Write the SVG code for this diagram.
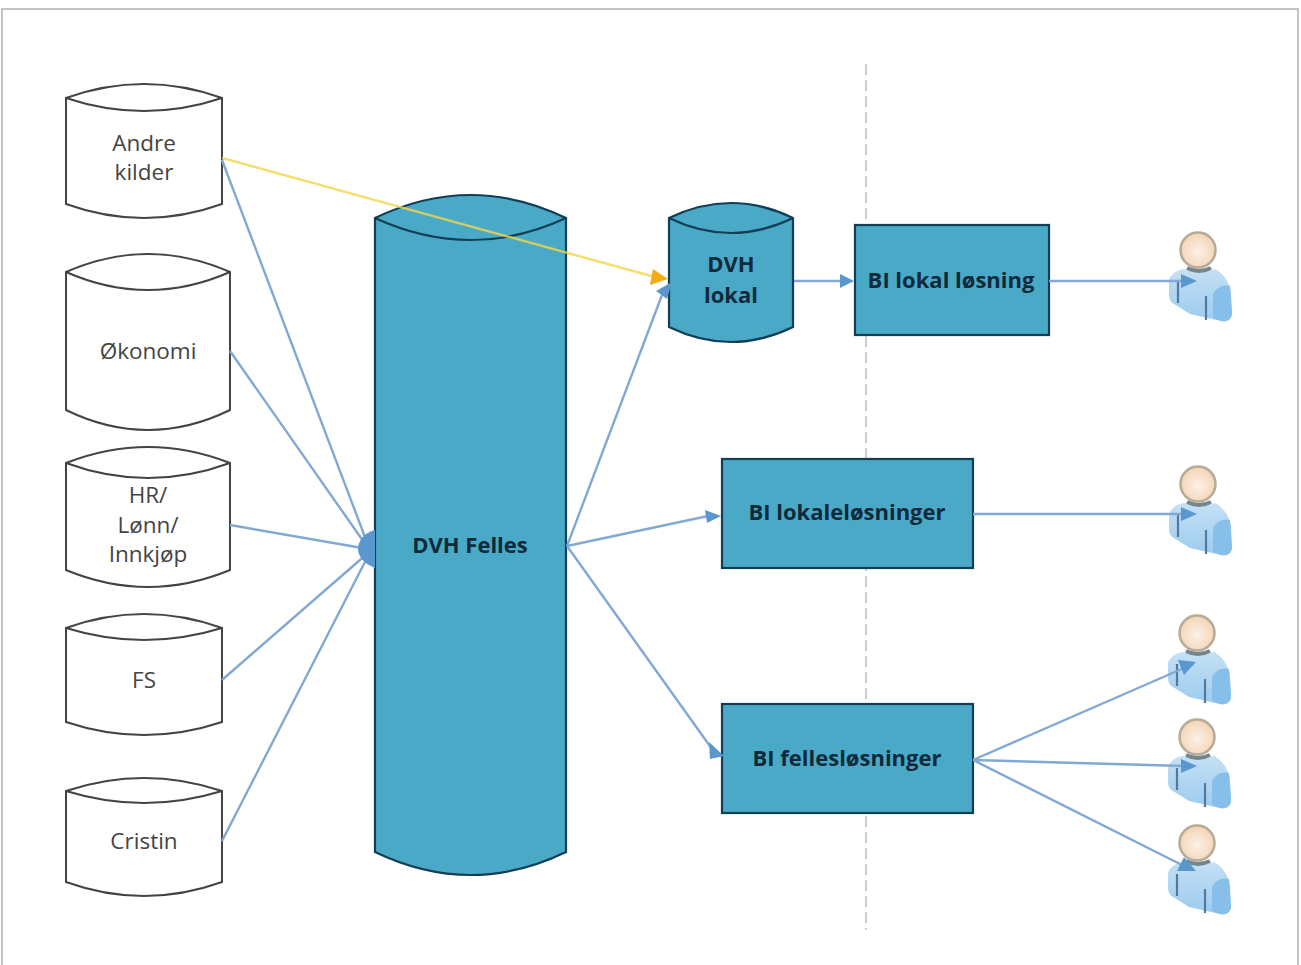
<svg xmlns="http://www.w3.org/2000/svg" width="1301" height="965" viewBox="0 0 1301 965">
<style>
text{font-family:"Open Sans","Liberation Sans",sans-serif;font-size:22.5px;text-anchor:middle;fill:#444}
.w path{fill:#fff;stroke:#444;stroke-width:2}
.b path,.b rect{fill:#4aa9c6;stroke:#123f55;stroke-width:2.2}
.b text{font-size:22px;font-weight:700;fill:#0f2a3a}
.c{stroke:#82a9d3;stroke-width:2.4;fill:none}
.e{fill:#5b97cf}
.skin{fill:url(#sk);stroke:#b5ab97;stroke-width:2.5}
.body{fill:url(#bd)}
.side{fill:#86c0ea}
.fold{stroke:#4f7b9c;stroke-width:2.2;fill:none}
</style>
<defs>
<radialGradient id="sk" cx=".5" cy=".55" r=".55"><stop offset="0" stop-color="#fdf1e6"/><stop offset="1" stop-color="#f3d3b4"/></radialGradient>
<linearGradient id="bd" x1="0" y1="0" x2="0" y2="1"><stop offset="0" stop-color="#c4e0f5"/><stop offset="1" stop-color="#9ccbef"/></linearGradient>
<filter id="soft" x="-10%" y="-10%" width="120%" height="120%"><feGaussianBlur stdDeviation="0.7"/></filter>
<g id="person" filter="url(#soft)">
<path class="body" d="M-14 19C-4 23 8 23 17 19C26 24 31 32 33 42L34 64C33 70 29 72 23 71L-8 64L-24 54C-28 52 -29 48 -29 44L-29 30C-27 24 -21 20 -14 19Z"/>
<path class="side" d="M15 44C18 37 26 34 32 36L34 64C33 70 29 72 23 71L15 68Z"/>
<path class="fold" d="M-20 31V53M8 46V70"/>
<path d="M-11 18Q1 24 13 18" stroke="#77858c" stroke-width="4" fill="none"/>
<circle class="skin" r="17.5"/>
</g>
</defs>
<rect x="2" y="9" width="1296" height="970" fill="#fff" stroke="#b0b0b0" stroke-width="1.5"/>
<path d="M866 64V930" stroke="#c9b9b9" stroke-width="1.5" stroke-dasharray="11 5" fill="none"/>
<g id="node-andre" class="w"><path d="M66 98Q144 70 222 98V204Q144 232 66 204Z"/><path d="M66 98Q144 124 222 98"/><text x="144" y="151">Andre</text><text x="144" y="180">kilder</text></g>
<g id="node-okonomi" class="w"><path d="M66 272Q148 236 230 272V410Q148 450 66 410Z"/><path d="M66 272Q148 308 230 272"/><text x="148" y="359">Økonomi</text></g>
<g id="node-hr" class="w"><path d="M66 463Q148 431 230 463V570Q148 604 66 570Z"/><path d="M66 463Q148 493 230 463"/><text x="148" y="503">HR/</text><text x="148" y="533">Lønn/</text><text x="148" y="562">Innkjøp</text></g>
<g id="node-fs" class="w"><path d="M66 628Q144 600 222 628V722Q144 748 66 722Z"/><path d="M66 628Q144 652 222 628"/><text x="144" y="688">FS</text></g>
<g id="node-cristin" class="w"><path d="M66 791Q144 765 222 791V882Q144 910 66 882Z"/><path d="M66 791Q144 815 222 791"/><text x="144" y="849">Cristin</text></g>
<g id="node-felles" class="b"><path d="M375 218Q471 172 566 218V852Q471 898 375 852Z"/><path d="M375 218Q471 262 566 218" fill="none"/><text x="470" y="553">DVH Felles</text></g>
<g id="node-lokal" class="b"><path d="M669 218Q731 188 793 218V327Q731 357 669 327Z"/><path d="M669 218Q731 248 793 218" fill="none"/><text x="731" y="272">DVH</text><text x="731" y="303">lokal</text></g>
<g id="node-bi-lokal" class="b"><rect x="855" y="225" width="194" height="110"/><text x="951" y="288">BI lokal løsning</text></g>
<g id="node-bi-lokale" class="b"><rect x="722" y="459" width="251" height="109"/><text x="847" y="520">BI lokaleløsninger</text></g>
<g id="node-bi-felles" class="b"><rect x="722" y="704" width="251" height="109"/><text x="847" y="766">BI fellesløsninger</text></g>
<g id="node-user1"><use href="#person" x="1198" y="250"/></g>
<g id="node-user2"><use href="#person" x="1198" y="484"/></g>
<g id="node-user3"><use href="#person" x="1197" y="633"/></g>
<g id="node-user4"><use href="#person" x="1197" y="737"/></g>
<g id="node-user5"><use href="#person" x="1197" y="843"/></g>
<g id="connectors">
<path class="c" d="M222 160L368 545M230 351L368 548M230 525L368 549M222 680L368 553M222 841L368 556"/>
<path class="e" d="M375 530C362 533 358 543 358 549C358 556 364 564 375 568Z"/>
<path class="c" d="M567 546L662 295M567 546L708 516M567 546L712 749M794 281H842M1049 281H1184M973 514H1184M973 760L1184 668M973 760L1184 766M973 760L1184 866"/>
<path d="M222 158L655 277" stroke="#f3d44a" stroke-width="2.4" opacity="0.8" fill="none"/>
<path d="M668 279L653 269L650 285Z" fill="#f0ad16"/>
<path class="e" d="M672 282L656 291L667 299Z"/>
<path class="e" d="M854 281L840 274V288Z"/>
<path class="e" d="M721 516L705 510L707 523Z"/>
<path class="e" d="M724 756L709 742L710 759Z"/>
<path class="e" d="M1197 281L1181 274V288Z"/>
<path class="e" d="M1197 514L1181 507V521Z"/>
<path class="e" d="M1196 662L1178 660L1184 675Z"/>
<path class="e" d="M1197 766L1181 759V773Z"/>
<path class="e" d="M1196 871L1184 857L1177 871Z"/>
</g>
</svg>
